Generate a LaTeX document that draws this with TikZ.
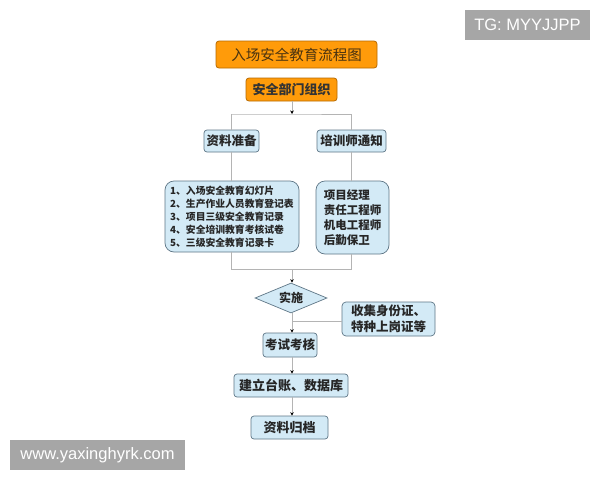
\documentclass[tikz,border=0pt]{standalone}
\usepackage{fontspec}
\newfontfamily\cjk{Noto Sans CJK SC}
\setsansfont{Liberation Sans}
\usetikzlibrary{shapes.geometric,arrows.meta}
\definecolor{orangefill}{HTML}{FF9B0A}
\definecolor{orangeedge}{HTML}{B86A00}
\definecolor{bluefill}{HTML}{D3EAF6}
\definecolor{blueedge}{HTML}{5E7686}
\definecolor{linegray}{HTML}{B4B4B4}
\definecolor{wmgray}{HTML}{A6A6A6}
\definecolor{titletext}{HTML}{4A3310}
\tikzset{
  obox/.style={draw=orangeedge, fill=orangefill, rounded corners=3pt, line width=0.8pt, inner sep=0pt, text=black!80, font=\cjk\bfseries\fontsize{12.5}{14}\selectfont},
  bbox/.style={draw=blueedge, fill=bluefill, rounded corners=3pt, line width=0.7pt, inner sep=0pt, text=black!85, font=\cjk\bfseries\fontsize{12.5}{14}\selectfont},
  conn/.style={draw=linegray, line width=0.8pt},
  arr/.style={conn, -{Stealth[black,length=3.5pt,width=3.5pt]}},
  wm/.style={fill=wmgray, text=white, inner sep=0pt, font=\sffamily\fontsize{16.5}{18}\selectfont}
}
\begin{document}
\begin{tikzpicture}[x=1pt,y=-1pt]
\useasboundingbox (0,0) rectangle (600,480);
\fill[white] (0,0) rectangle (600,480);
% watermarks
\node[wm, minimum width=125pt, minimum height=30pt] (tg) at (527.5,25) {TG: MYYJJPP};
\node[wm, minimum width=175pt, minimum height=30pt] (www) at (97.5,455) {www.yaxinghyrk.com};
% nodes
\node[obox, minimum width=161pt, minimum height=27pt, text=titletext, font=\cjk\fontsize{14.5}{16}\selectfont] (title) at (296.5,54.5) {入场安全教育流程图};
\node[obox, minimum width=91pt, minimum height=23pt, font=\cjk\bfseries\fontsize{13}{14}\selectfont] (org) at (291.5,89.5) {安全部门组织};
\node[bbox, minimum width=55pt, minimum height=22pt] (prep) at (231.5,141) {资料准备};
\node[bbox, minimum width=69pt, minimum height=22pt] (notice) at (351.5,141) {培训师通知};
\node[bbox, rounded corners=9pt, minimum width=134pt, minimum height=71pt, align=left, font=\cjk\bfseries\fontsize{9.8}{13}\selectfont] (list) at (232,216.5) {1、入场安全教育幻灯片\\2、生产作业人员教育登记表\\3、项目三级安全教育记录\\4、安全培训教育考核试卷\\5、三级安全教育记录卡};
\node[bbox, rounded corners=9pt, minimum width=73pt, minimum height=73pt, align=left, font=\cjk\bfseries\fontsize{11.5}{15}\selectfont] (staff) at (352.5,217.5) {项目经理\\责任工程师\\机电工程师\\后勤保卫};
\node[bbox, diamond, aspect=2.4, minimum width=72pt, minimum height=30pt, rounded corners=0pt, font=\cjk\bfseries\fontsize{12}{14}\selectfont] (impl) at (291,298) {实施};
\node[bbox, rounded corners=4pt, minimum width=93pt, minimum height=34pt, align=left, font=\cjk\bfseries\fontsize{12.5}{16}\selectfont] (ids) at (388.5,319) {收集身份证、\\特种上岗证等};
\node[bbox, minimum width=54pt, minimum height=24pt] (exam) at (290,345) {考试考核};
\node[bbox, minimum width=114pt, minimum height=23pt, font=\cjk\bfseries\fontsize{13}{14}\selectfont] (ledger) at (291,385.5) {建立台账、数据库};
\node[bbox, minimum width=77pt, minimum height=23pt, font=\cjk\bfseries\fontsize{13}{14}\selectfont] (arch) at (289.5,427.5) {资料归档};
% connectors
\coordinate (split) at (292,114);
\coordinate (join) at (292,269);
\coordinate (side) at (292,321);
\draw[arr] (org.south -| split) -- (split);
\draw[conn] (prep.north |- split) -- (split) -- (notice.north |- split);
\draw[conn] (prep.north |- split) -- (prep.north);
\draw[conn] (notice.north |- split) -- (notice.north);
\draw[conn] (prep.south) -- (list.north -| prep.south);
\draw[conn] (notice.south) -- (staff.north -| notice.south);
\draw[conn] (list.south -| prep.south) -- (prep.south |- join) -- (notice.south |- join) -- (staff.south -| notice.south);
\draw[arr] (join) -- (impl.north -| join);
\draw[arr] (impl.south -| side) -- (exam.north -| side);
\draw[conn] (ids.west |- side) -- (side);
\draw[arr] (exam.south -| side) -- (ledger.north -| side);
\draw[arr] (ledger.south -| side) -- (arch.north -| side);
\end{tikzpicture}
\end{document}
